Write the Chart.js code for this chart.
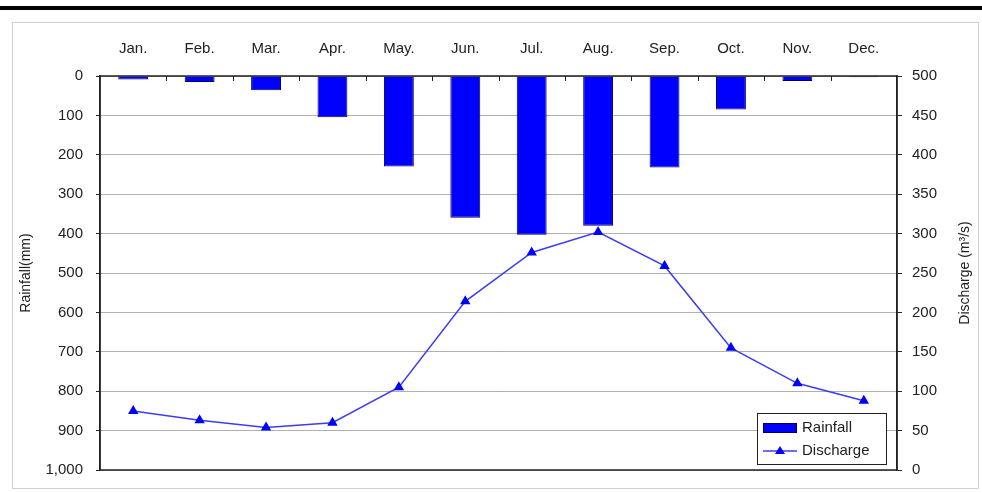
<!DOCTYPE html>
<html lang="en">
<head>
  <meta charset="UTF-8">
  <title>Rainfall and Discharge</title>
  <script src="https://cdn.jsdelivr.net/npm/chart.js"></script>
  <style>
    body { margin: 0; padding: 0; background: #fff; }
    canvas { display: block; }
  </style>
</head>
<body>
  <canvas id="chart" width="982" height="493"></canvas>
  <script>
    const months = ['Jan.', 'Feb.', 'Mar.', 'Apr.', 'May.', 'Jun.', 'Jul.', 'Aug.', 'Sep.', 'Oct.', 'Nov.', 'Dec.'];
    const rainfall = [9, 15, 36, 105, 230, 360, 403, 380, 232, 85, 13, 3];   // mm
    const discharge = [75, 63, 54, 60, 105, 214, 276, 302, 259, 155, 110, 88]; // m3/s
    const rainTicks = [0, 100, 200, 300, 400, 500, 600, 700, 800, 900, 1000];
    const dischargeTicks = [0, 50, 100, 150, 200, 250, 300, 350, 400, 450, 500];

    const FONT = 'Liberation Sans, Arial, sans-serif';
    const TEXT = '#222';

    // page frame: thick black rule on top, thin grey box round the chart
    const framePlugin = {
      id: 'frame',
      beforeDraw(chart) {
        const ctx = chart.ctx;
        ctx.save();
        ctx.fillStyle = '#fff';
        ctx.fillRect(0, 0, chart.width, chart.height);
        ctx.fillStyle = '#000';
        ctx.fillRect(0, 6, chart.width, 4);
        ctx.strokeStyle = '#d0d0d0';
        ctx.lineWidth = 1;
        ctx.strokeRect(12.5, 22.5, chart.width - 16, chart.height - 27);
        ctx.restore();
      }
    };

    // plot box, inner x ticks, right title, legend
    const extrasPlugin = {
      id: 'extras',
      afterDatasetsDraw(chart) {
        const ctx = chart.ctx;
        const a = chart.chartArea;
        ctx.save();
        ctx.strokeStyle = '#222';
        ctx.lineWidth = 1.5;
        ctx.strokeRect(a.left, a.top, a.right - a.left, a.bottom - a.top);
        // x ticks between categories, pointing into the plot
        const n = months.length;
        const step = (a.right - a.left) / n;
        ctx.lineWidth = 1;
        ctx.beginPath();
        for (let i = 1; i < n; i++) {
          const x = Math.round(a.left + i * step) + 0.5;
          ctx.moveTo(x, a.top);
          ctx.lineTo(x, a.top + 5);
        }
        ctx.stroke();
        ctx.restore();
      },
      afterDraw(chart) {
        const ctx = chart.ctx;
        const a = chart.chartArea;
        ctx.save();
        // right axis title, reading bottom to top
        ctx.fillStyle = TEXT;
        ctx.font = '14px ' + FONT;
        ctx.textAlign = 'center';
        ctx.textBaseline = 'middle';
        ctx.translate(965, (a.top + a.bottom) / 2);
        ctx.rotate(-Math.PI / 2);
        ctx.fillText('Discharge (m\u00b3/s)', 0, 0);
        ctx.restore();

        // legend box inside plot, bottom right
        const bar = chart.data.datasets[0];
        const line = chart.data.datasets[1];
        const lx = a.right - 140, ly = a.bottom - 57, lw = 129, lh = 51;
        ctx.save();
        ctx.fillStyle = '#fff';
        ctx.fillRect(lx, ly, lw, lh);
        ctx.strokeStyle = '#222';
        ctx.lineWidth = 1;
        ctx.strokeRect(lx + 0.5, ly + 0.5, lw, lh);
        ctx.fillStyle = bar.backgroundColor;
        ctx.fillRect(lx + 6, ly + 10, 34, 10);
        ctx.strokeStyle = bar.borderColor;
        ctx.strokeRect(lx + 6.5, ly + 10.5, 33, 9);
        ctx.strokeStyle = line.borderColor;
        ctx.lineWidth = 1.5;
        ctx.beginPath();
        ctx.moveTo(lx + 6, ly + 38);
        ctx.lineTo(lx + 40, ly + 38);
        ctx.stroke();
        ctx.fillStyle = line.pointBackgroundColor;
        ctx.beginPath();
        ctx.moveTo(lx + 23, ly + 33);
        ctx.lineTo(lx + 28, ly + 41);
        ctx.lineTo(lx + 18, ly + 41);
        ctx.closePath();
        ctx.fill();
        ctx.fillStyle = TEXT;
        ctx.font = '15px ' + FONT;
        ctx.textAlign = 'left';
        ctx.textBaseline = 'middle';
        ctx.fillText('Rainfall', lx + 45, ly + 15);
        ctx.fillText('Discharge', lx + 45, ly + 38);
        ctx.restore();
      }
    };

    new Chart(document.getElementById('chart').getContext('2d'), {
      data: {
        labels: months,
        datasets: [
          {
            type: 'bar',
            label: 'Rainfall',
            data: rainfall,
            yAxisID: 'y',
            backgroundColor: '#0000ff',
            borderColor: '#000060',
            borderWidth: 1,
            barPercentage: 0.45,
            categoryPercentage: 1,
            order: 1
          },
          {
            type: 'line',
            label: 'Discharge',
            data: discharge,
            yAxisID: 'y1',
            borderColor: '#3c3cf5',
            borderWidth: 1.5,
            pointStyle: 'triangle',
            pointRadius: 4.5,
            pointBackgroundColor: '#0000ff',
            pointBorderColor: '#0000ff',
            tension: 0,
            order: 0
          }
        ]
      },
      options: {
        responsive: false,
        animation: false,
        layout: { padding: { top: 0, left: 0, right: 0, bottom: 23 } },
        scales: {
          x: {
            position: 'top',
            offset: true,
            grid: { display: false },
            border: { display: false },
            ticks: { color: TEXT, font: { family: FONT, size: 15 }, padding: 10 },
            afterFit(scale) { scale.height = 76; }
          },
          y: {
            position: 'left',
            reverse: true,
            min: rainTicks[0],
            max: rainTicks[rainTicks.length - 1],
            afterBuildTicks(scale) { scale.ticks = rainTicks.map(v => ({ value: v })); },
            ticks: {
              color: TEXT,
              font: { family: FONT, size: 15 },
              padding: 13,
              callback: v => v.toLocaleString('en-US')
            },
            grid: { color: '#b0b0b0', lineWidth: 1, tickColor: '#222', tickLength: 4 },
            border: { color: '#222', width: 1.5 },
            title: {
              display: true,
              text: 'Rainfall(mm)',
              color: TEXT,
              font: { family: FONT, size: 14 },
              padding: { top: 18, bottom: 0 }
            },
            afterFit(scale) { scale.width = 100; }
          },
          y1: {
            position: 'right',
            min: dischargeTicks[0],
            max: dischargeTicks[dischargeTicks.length - 1],
            afterBuildTicks(scale) { scale.ticks = dischargeTicks.map(v => ({ value: v })); },
            ticks: { color: TEXT, font: { family: FONT, size: 15 }, padding: 10 },
            grid: { drawOnChartArea: false, tickColor: '#222', tickLength: 5 },
            border: { color: '#222', width: 1.5 },
            afterFit(scale) { scale.width = 85; }
          }
        },
        plugins: {
          legend: { display: false },
          tooltip: { enabled: false }
        }
      },
      plugins: [framePlugin, extrasPlugin]
    });
  </script>
</body>
</html>
